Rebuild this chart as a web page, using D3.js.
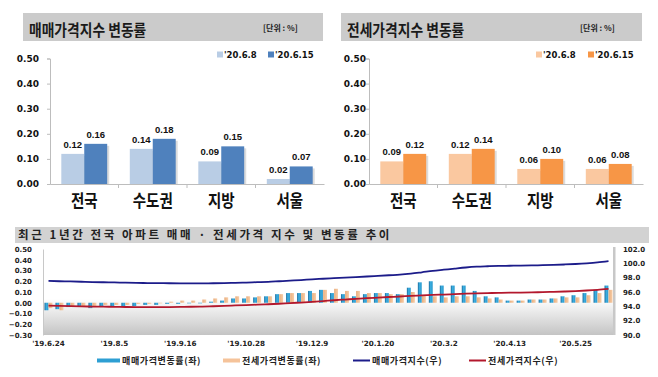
<!DOCTYPE html>
<html>
<head>
<meta charset="utf-8">
<script src="https://cdn.jsdelivr.net/npm/d3@7"></script>
<style>
  body { margin: 0; background: #fff; }
  svg { display: block; }
  .kr { font-family: "Noto Sans CJK KR", "Noto Sans", sans-serif; font-weight: bold; }
  .num { font-family: "DejaVu Sans", sans-serif; font-weight: bold; }
  .val { font-family: "Liberation Sans", Arial, sans-serif; font-weight: bold; }
</style>
</head>
<body>
<div id="chart"></div>
<script>
// top charts: weekly change by region
const regions = ["전국", "수도권", "지방", "서울"];
const weekNames = ["'20.6.8", "'20.6.15"];
const saleJun8 = [0.12, 0.14, 0.09, 0.02];
const saleJun15 = [0.16, 0.18, 0.15, 0.07];
const jeonseJun8 = [0.09, 0.12, 0.06, 0.06];
const jeonseJun15 = [0.12, 0.14, 0.10, 0.08];
const topTicks = [0, 0.1, 0.2, 0.3, 0.4, 0.5];

// bottom chart: last 52 weeks, nationwide
const weeks = [
  "'19.6.24", "'19.7.1", "'19.7.8", "'19.7.15", "'19.7.22", "'19.7.29",
  "'19.8.5", "'19.8.12", "'19.8.19", "'19.8.26", "'19.9.2", "'19.9.9",
  "'19.9.16", "'19.9.23", "'19.9.30", "'19.10.7", "'19.10.14", "'19.10.21",
  "'19.10.28", "'19.11.4", "'19.11.11", "'19.11.18", "'19.11.25", "'19.12.2",
  "'19.12.9", "'19.12.16", "'19.12.23", "'19.12.30", "'20.1.6", "'20.1.13",
  "'20.1.20", "'20.1.27", "'20.2.3", "'20.2.10", "'20.2.17", "'20.2.24",
  "'20.3.2", "'20.3.9", "'20.3.16", "'20.3.23", "'20.3.30", "'20.4.6",
  "'20.4.13", "'20.4.20", "'20.4.27", "'20.5.4", "'20.5.11", "'20.5.18",
  "'20.5.25", "'20.6.1", "'20.6.8", "'20.6.15"
];
const saleChange = [
  -0.07, -0.06, -0.04, -0.03, -0.05, -0.03, -0.03, -0.03, -0.03, -0.02,
  -0.02, -0.01, -0.01, 0.00, 0.00, 0.01, 0.02, 0.04, 0.04, 0.05,
  0.06, 0.08, 0.09, 0.09, 0.11, 0.12, 0.09, 0.08, 0.06, 0.08,
  0.09, 0.09, 0.08, 0.14, 0.19, 0.20, 0.16, 0.16, 0.16, 0.11,
  0.06, 0.05, 0.02, 0.02, 0.03, 0.03, 0.04, 0.06, 0.07, 0.09,
  0.12, 0.16
];
const jeonseChange = [
  -0.05, -0.07, -0.03, -0.03, -0.03, -0.02, -0.02, -0.02, -0.01, -0.01,
  0.00, 0.01, 0.02, 0.02, 0.03, 0.04, 0.05, 0.06, 0.06, 0.06,
  0.06, 0.08, 0.09, 0.09, 0.09, 0.12, 0.13, 0.11, 0.11, 0.09,
  0.09, 0.08, 0.08, 0.10, 0.07, 0.06, 0.05, 0.06, 0.06, 0.05,
  0.04, 0.03, 0.02, 0.02, 0.03, 0.03, 0.04, 0.05, 0.05, 0.07,
  0.09, 0.12
];
const saleIndex = [
  97.54, 97.50, 97.47, 97.43, 97.39, 97.36, 97.33, 97.30, 97.27, 97.25,
  97.23, 97.22, 97.21, 97.21, 97.21, 97.22, 97.24, 97.28, 97.32, 97.37,
  97.42, 97.50, 97.58, 97.67, 97.76, 97.85, 97.93, 98.01, 98.08, 98.16,
  98.25, 98.34, 98.42, 98.56, 98.75, 98.95, 99.11, 99.27, 99.42, 99.53,
  99.59, 99.64, 99.66, 99.68, 99.71, 99.74, 99.78, 99.84, 99.91, 100.00,
  100.12, 100.30
];
const jeonseIndex = [
  94.10, 94.05, 94.02, 93.99, 93.97, 93.95, 93.93, 93.91, 93.90, 93.89,
  93.89, 93.90, 93.92, 93.94, 93.97, 94.01, 94.06, 94.12, 94.18, 94.23,
  94.29, 94.36, 94.45, 94.53, 94.62, 94.73, 94.85, 94.95, 95.05, 95.14,
  95.22, 95.30, 95.37, 95.46, 95.53, 95.59, 95.64, 95.70, 95.76, 95.81,
  95.85, 95.88, 95.90, 95.92, 95.95, 95.98, 96.02, 96.07, 96.13, 96.21,
  96.31, 96.44
];
const leftTicks = [0.5, 0.4, 0.3, 0.2, 0.1, 0, -0.1, -0.2, -0.3];
const rightTicks = [102, 100, 98, 96, 94, 92, 90];
const labelWeeks = ["'19.6.24", "'19.8.5", "'19.9.16", "'19.10.28", "'19.12.9",
  "'20.1.20", "'20.3.2", "'20.4.13", "'20.5.25"];
const legendNames = ["매매가격변동률(좌)", "전세가격변동률(좌)", "매매가격지수(우)", "전세가격지수(우)"];

const W = 658, H = 377;
const svg = d3.select("#chart").append("svg").attr("width", W).attr("height", H);
const defs = svg.append("defs");

function drawBarChart(o) {
  const g = svg.append("g");
  // title bar
  g.append("rect").attr("x", o.barX).attr("y", 13).attr("width", o.barW).attr("height", 28)
    .attr("fill", "#cbcbcb");
  g.append("text").attr("class", "kr")
    .attr("transform", `translate(${o.barX + 6},35.5) scale(1,1.12)`)
    .style("font-size", "13.8px").attr("fill", "#1a1a1a").text(o.title);
  g.append("text").attr("class", "kr")
    .attr("x", o.unitX).attr("y", 31)
    .style("font-size", "8px").attr("fill", "#222").text("[단위 : %]");

  const x0 = d3.scaleBand().domain(regions).range([o.axisX, o.axisX + 274])
    .paddingInner(0.33).paddingOuter(0.165);
  const x1 = d3.scaleBand().domain([0, 1]).range([0, x0.bandwidth()]);
  const y = d3.scaleLinear().domain([0, 0.5]).range([184, 58.5]);

  // axes
  const ya = g.append("g").attr("transform", `translate(${o.axisX},0)`)
    .call(d3.axisLeft(y).tickValues(topTicks).tickSize(3).tickFormat(d3.format(".2f")));
  ya.select(".domain").attr("stroke", "#bdbdbd");
  ya.selectAll(".tick line").attr("stroke", "#bdbdbd");
  ya.selectAll(".tick text").attr("class", "num").attr("x", o.labelDx)
    .style("font-size", "9px").attr("fill", "#111");
  const xa = g.append("g").attr("transform", "translate(0,184)")
    .call(d3.axisBottom(x0).tickSize(0).tickFormat(""));
  xa.select(".domain").attr("stroke", "#bdbdbd");
  regions.forEach((r, i) => {
    if (i > 0) {
      const bx = x0(r) - x0.step() * x0.paddingInner() / 2;
      g.append("line").attr("x1", bx).attr("x2", bx).attr("y1", 184).attr("y2", 188)
        .attr("stroke", "#bdbdbd");
    }
  });
  g.selectAll("text.cat").data(regions).join("text").attr("class", "kr cat")
    .attr("text-anchor", "middle")
    .attr("transform", d => `translate(${x0(d) + x0.bandwidth() / 2},207) scale(1,1.2)`)
    .style("font-size", "14.5px").attr("fill", "#111").text(d => d);

  const rows = [];
  regions.forEach((r, i) => {
    rows.push({ r, k: 0, v: o.first[i] });
    rows.push({ r, k: 1, v: o.second[i] });
  });
  // soft shadow
  g.selectAll("rect.sh").data(rows).join("rect").attr("class", "sh")
    .attr("x", d => x0(d.r) + x1(d.k) + 2).attr("y", d => y(d.v) + 2)
    .attr("width", x1.bandwidth()).attr("height", d => 184 - y(d.v) - 2)
    .attr("fill", "#9a9a9a").attr("opacity", 0.35);
  g.selectAll("rect.bar").data(rows).join("rect").attr("class", "bar")
    .attr("x", d => x0(d.r) + x1(d.k)).attr("y", d => y(d.v))
    .attr("width", x1.bandwidth()).attr("height", d => 184 - y(d.v))
    .attr("fill", d => o.colors[d.k]);
  g.selectAll("text.v").data(rows).join("text").attr("class", "val v")
    .attr("text-anchor", "middle")
    .attr("x", d => x0(d.r) + x1(d.k) + x1.bandwidth() / 2)
    .attr("y", d => y(d.v) - 6)
    .style("font-size", "9.5px").attr("fill", "#111").text(d => d.v.toFixed(2));

  // legend
  weekNames.forEach((n, i) => {
    const lx = o.legX[i];
    g.append("rect").attr("x", lx).attr("y", 51.5).attr("width", 6).attr("height", 6)
      .attr("fill", o.colors[i]);
    g.append("text").attr("class", "num").attr("x", lx + 7).attr("y", 57.5)
      .style("font-size", "8.5px").attr("fill", "#111").text(n);
  });
}

drawBarChart({
  title: "매매가격지수 변동률", barX: 23, barW: 300, unitX: 263, axisX: 50, labelDx: -11,
  first: saleJun8, second: saleJun15, colors: ["#b9cde5", "#4f81bd"], legX: [217, 268]
});
drawBarChart({
  title: "전세가격지수 변동률", barX: 341, barW: 301, unitX: 580, axisX: 369, labelDx: -3,
  first: jeonseJun8, second: jeonseJun15, colors: ["#fac8a0", "#f79646"], legX: [536, 588]
});

// ---- bottom combo chart ----
const bx0 = 43, bx1 = 613, by0 = 249, by1 = 335;
const gb = svg.append("g");
gb.append("rect").attr("x", 15).attr("y", 227).attr("width", 634).attr("height", 16)
  .attr("fill", "#d2d2d2");
gb.append("text").attr("class", "kr").attr("x", 18).attr("y", 239)
  .style("font-size", "11.5px").style("letter-spacing", "2.6px").attr("fill", "#222")
  .text("최근 1년간 전국 아파트 매매 · 전세가격 지수 및 변동률 추이");

const bg = defs.append("linearGradient").attr("id", "floor").attr("x1", 0).attr("y1", 0).attr("x2", 0).attr("y2", 1);
bg.append("stop").attr("offset", "0.58").attr("stop-color", "#ffffff");
bg.append("stop").attr("offset", "1").attr("stop-color", "#c4c4c4");
const blueG = defs.append("linearGradient").attr("id", "blueBar").attr("x1", 0).attr("x2", 1);
blueG.append("stop").attr("offset", "0").attr("stop-color", "#1a6a9c");
blueG.append("stop").attr("offset", "0.45").attr("stop-color", "#3aaee0");
blueG.append("stop").attr("offset", "1").attr("stop-color", "#2b98cc");
const orG = defs.append("linearGradient").attr("id", "orBar").attr("x1", 0).attr("x2", 1);
orG.append("stop").attr("offset", "0").attr("stop-color", "#e9ae7e");
orG.append("stop").attr("offset", "1").attr("stop-color", "#f7cda7");

gb.append("rect").attr("x", bx0).attr("y", by0).attr("width", bx1 - bx0).attr("height", by1 - by0)
  .attr("fill", "url(#floor)");
gb.append("rect").attr("x", bx1).attr("y", by0 - 2).attr("width", 2.5).attr("height", by1 - by0 + 2)
  .attr("fill", "#c8c8c8");

const xb = d3.scaleBand().domain(weeks).range([bx0, bx1 + 1]);
const xs = d3.scaleBand().domain([0, 1]).range([1.5, xb.bandwidth() - 1.5]).paddingInner(0.05);
const yl = d3.scaleLinear().domain([-0.3, 0.5]).range([by1, by0]);
const yr = d3.scaleLinear().domain([90, 102]).range([by1, by0]);

const la = gb.append("g").attr("transform", `translate(${bx0},0)`)
  .call(d3.axisLeft(yl).tickValues(leftTicks).tickSize(0).tickPadding(11).tickFormat(d3.format(".2f")));
la.select(".domain").attr("stroke", "#c8c8c8");
la.selectAll(".tick text").attr("class", "num").style("font-size", "7px").attr("fill", "#222");

const ra = gb.append("g").attr("transform", `translate(${bx1},0)`)
  .call(d3.axisRight(yr).tickValues(rightTicks).tickSize(0).tickPadding(10).tickFormat(d3.format(".1f")));
ra.select(".domain").remove();
ra.selectAll(".tick text").attr("class", "num").style("font-size", "7px").attr("fill", "#222");

const xa = gb.append("g").attr("transform", `translate(0,${by1})`)
  .call(d3.axisBottom(xb).tickValues(labelWeeks).tickSize(0).tickPadding(6));
xa.select(".domain").remove();
xa.selectAll(".tick text").attr("class", "num").style("font-size", "7.2px").attr("fill", "#222");

const bars = [];
weeks.forEach((w, i) => {
  bars.push({ w, k: 0, v: saleChange[i] });
  bars.push({ w, k: 1, v: jeonseChange[i] });
});
gb.selectAll("rect.wb").data(bars).join("rect").attr("class", "wb")
  .attr("x", d => xb(d.w) + xs(d.k))
  .attr("y", d => Math.min(yl(d.v), yl(0)))
  .attr("width", xs.bandwidth())
  .attr("height", d => Math.max(0.6, Math.abs(yl(d.v) - yl(0))))
  .attr("fill", d => d.k === 0 ? "url(#blueBar)" : "url(#orBar)");

const line = arr => d3.line()
  .x((d, i) => xb(weeks[i]) + xb.bandwidth() / 2)
  .y(d => yr(d))
  .curve(d3.curveMonotoneX)(arr);
gb.append("path").attr("d", line(saleIndex)).attr("fill", "none")
  .attr("stroke", "#1c1c8a").attr("stroke-width", 1.8);
gb.append("path").attr("d", line(jeonseIndex)).attr("fill", "none")
  .attr("stroke", "#b3182d").attr("stroke-width", 1.8);

// bottom legend
const legX = [97, 223, 353, 469];
legendNames.forEach((n, i) => {
  const lx = legX[i];
  const w = i === 0 ? 23 : 17;
  if (i < 2) {
    gb.append("rect").attr("x", lx).attr("y", 358.5).attr("width", w).attr("height", 4)
      .attr("fill", i === 0 ? "#2e9fd3" : "#f5c39a");
  } else {
    gb.append("line").attr("x1", lx).attr("x2", lx + w).attr("y1", 360.5).attr("y2", 360.5)
      .attr("stroke", i === 2 ? "#1c1c8a" : "#b3182d").attr("stroke-width", 2);
  }
  gb.append("text").attr("class", "kr").attr("x", lx + w + 2).attr("y", 364)
    .style("font-size", "9px").style("letter-spacing", "0.6px").attr("fill", "#222").text(n);
});
</script>
</body>
</html>
